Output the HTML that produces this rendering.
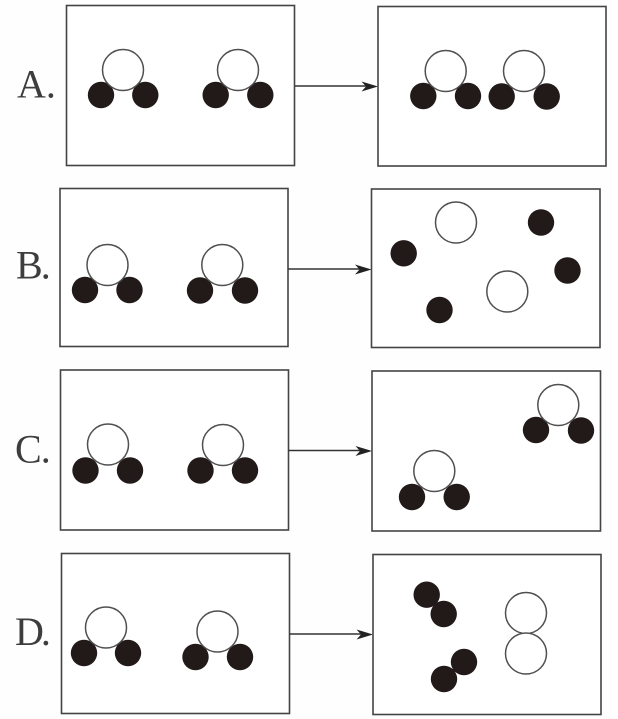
<!DOCTYPE html>
<html><head><meta charset="utf-8">
<style>
html,body{margin:0;padding:0;background:#fefefe;}
svg{display:block;filter:blur(0.35px);}
text{font-family:"Liberation Serif",serif;font-size:40px;fill:#3d3d3d;}
.b{fill:#fff;stroke:#444;stroke-width:1.6;}
.w{fill:#fff;stroke:#505050;stroke-width:1.5;}
.k{fill:#211a19;}
.l{stroke:#333;stroke-width:1.6;}
.a{fill:#222;}
</style></head><body>
<svg width="618" height="719" viewBox="0 0 618 719" xmlns="http://www.w3.org/2000/svg">
<rect width="618" height="719" fill="#fefefe"/>
<g id="A">
<text x="17" y="97.500">A.</text>
<rect class="b" x="66.500" y="5.500" width="228" height="160"/>
<circle class="k" cx="101" cy="95" r="13.200"/><circle class="k" cx="145.300" cy="95" r="13.200"/>
<circle class="w" cx="123" cy="70" r="20.500"/>
<circle class="k" cx="215.700" cy="95" r="13.200"/><circle class="k" cx="260.300" cy="95" r="13.200"/>
<circle class="w" cx="238" cy="70" r="20.500"/>
<line class="l" x1="295" y1="86" x2="370" y2="86"/>
<path class="a" d="M378 86.500L361.500 81.500L366 86.500L361.500 91.500Z"/>
<rect class="b" x="378" y="6.500" width="228" height="159.500"/>
<circle class="k" cx="423.300" cy="96" r="13.200"/><circle class="k" cx="468" cy="96" r="13.200"/>
<circle class="w" cx="445.700" cy="71" r="20.500"/>
<circle class="k" cx="501.700" cy="96.500" r="13.200"/><circle class="k" cx="546.700" cy="96.500" r="13.200"/>
<circle class="w" cx="524" cy="71" r="20.500"/>
</g>
<g id="B">
<text x="16" y="278.500">B<tspan dx="-2">.</tspan></text>
<rect class="b" x="60" y="188.500" width="228" height="158"/>
<circle class="k" cx="85" cy="290" r="13.200"/><circle class="k" cx="129.500" cy="290" r="13.200"/>
<circle class="w" cx="107.500" cy="265" r="20.500"/>
<circle class="k" cx="200" cy="290.500" r="13.200"/><circle class="k" cx="245" cy="290.500" r="13.200"/>
<circle class="w" cx="222.300" cy="265" r="20.500"/>
<line class="l" x1="288" y1="269" x2="364" y2="269"/>
<path class="a" d="M371.500 269.500L355 264.500L359.500 269.500L355 274.500Z"/>
<rect class="b" x="371.500" y="189" width="228.500" height="158.500"/>
<circle class="w" cx="456" cy="222.500" r="20.500"/>
<circle class="w" cx="507.300" cy="291.500" r="20.500"/>
<circle class="k" cx="403.700" cy="253.300" r="13.200"/>
<circle class="k" cx="541" cy="222.500" r="13.200"/>
<circle class="k" cx="567.500" cy="270.500" r="13.200"/>
<circle class="k" cx="439.500" cy="310" r="13.200"/>
</g>
<g id="C">
<text x="15" y="462.500">C<tspan dx="-1">.</tspan></text>
<rect class="b" x="60.500" y="370" width="228" height="160"/>
<circle class="k" cx="85.500" cy="470.500" r="13.200"/><circle class="k" cx="130" cy="470.500" r="13.200"/>
<circle class="w" cx="108" cy="444.500" r="20.500"/>
<circle class="k" cx="200.500" cy="470.500" r="13.200"/><circle class="k" cx="245" cy="470.500" r="13.200"/>
<circle class="w" cx="223" cy="445" r="20.500"/>
<line class="l" x1="288.500" y1="450.500" x2="365" y2="450.500"/>
<path class="a" d="M372 451L355.500 446L360 451L355.500 456Z"/>
<rect class="b" x="372" y="371" width="228.500" height="160"/>
<circle class="k" cx="536" cy="430" r="13.200"/><circle class="k" cx="581" cy="430.500" r="13.200"/>
<circle class="w" cx="558.300" cy="405" r="20.500"/>
<circle class="k" cx="412" cy="497" r="13.200"/><circle class="k" cx="456.700" cy="497" r="13.200"/>
<circle class="w" cx="434.300" cy="471" r="20.500"/>
</g>
<g id="D">
<text x="15" y="645">D<tspan dx="-3">.</tspan></text>
<rect class="b" x="61.500" y="553.500" width="228" height="160"/>
<circle class="k" cx="84" cy="653" r="13.200"/><circle class="k" cx="128" cy="653" r="13.200"/>
<circle class="w" cx="106" cy="627.500" r="20.500"/>
<circle class="k" cx="195.500" cy="657" r="13.200"/><circle class="k" cx="240" cy="657" r="13.200"/>
<circle class="w" cx="217.500" cy="631.500" r="20.500"/>
<line class="l" x1="289.500" y1="634" x2="366" y2="634"/>
<path class="a" d="M373 634.500L356.500 629.500L361 634.500L356.500 639.500Z"/>
<rect class="b" x="373" y="554.500" width="228" height="160"/>
<circle class="k" cx="426.700" cy="594.700" r="13.200"/><circle class="k" cx="443.700" cy="614" r="13.200"/>
<line x1="452" y1="670" x2="456" y2="671" stroke="#211a19" stroke-width="2"/>
<circle class="k" cx="464" cy="662" r="13.200"/><circle class="k" cx="444" cy="679" r="13.200"/>
<circle class="w" cx="526" cy="613" r="20.500"/>
<circle class="w" cx="526" cy="653.500" r="20.500"/>
</g>
</svg>
</body></html>
